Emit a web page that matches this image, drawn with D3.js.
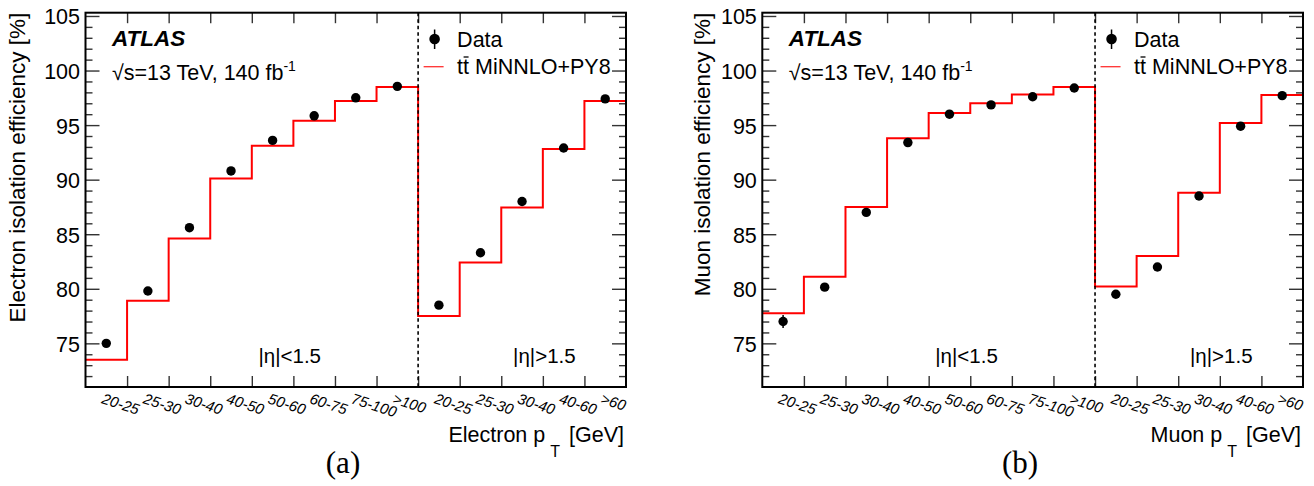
<!DOCTYPE html>
<html>
<head>
<meta charset="utf-8">
<script src="https://cdn.jsdelivr.net/npm/d3@7"></script>
<style>
  body { margin: 0; background: #fff; }
  text { font-family: "Liberation Sans", Arial, Helvetica, sans-serif; fill: #000; }
</style>
</head>
<body>
<svg id="chart" width="1314" height="486"></svg>
<script>
// pT bins: 8 central (|eta|<1.5) followed by 5 forward (|eta|>1.5)
const binLabels = ["20-25", "25-30", "30-40", "40-50", "50-60", "60-75", "75-100", ">100",
                   "20-25", "25-30", "30-40", "40-60", ">60"];
const centralBinCount = 8;

// Isolation efficiencies [%]
const electronData = [75.0, 79.8, 85.6, 90.8, 93.6, 95.85, 97.5, 98.55, 78.5, 83.3, 88.0, 92.9, 97.4];
const electronErr  = [0.3, 0.2, 0.15, 0.1, 0.1, 0.1, 0.1, 0.1, 0.3, 0.2, 0.15, 0.1, 0.1];
const electronMC   = [73.5, 78.9, 84.6, 90.1, 93.1, 95.4, 97.2, 98.5, 77.5, 82.4, 87.45, 92.8, 97.2];

const muonData = [77.0, 80.15, 87.0, 93.4, 96.0, 96.85, 97.6, 98.4, 79.5, 82.0, 88.5, 94.9, 97.7];
const muonErr  = [0.6, 0.3, 0.2, 0.1, 0.1, 0.1, 0.1, 0.1, 0.3, 0.2, 0.15, 0.1, 0.1];
const muonMC   = [77.75, 81.1, 87.5, 93.8, 96.1, 97.0, 97.8, 98.5, 80.2, 83.0, 88.8, 95.2, 97.75];

const yMajorTicks = [75, 80, 85, 90, 95, 100, 105];
const yMinorTicks = d3.range(72, 106, 1);
const yDomain = [71.0, 105.3];

const svg = d3.select("#chart");
const plotTop = 12.7, plotBottom = 387;

const panels = [
  { x0: 85.5, x1: 626, data: electronData, err: electronErr, mc: electronMC,
    yTitle: "Electron isolation efficiency [%]", yTitleX: 25, xTitle: "Electron p",
    tag: "(a)", tagX: 343 },
  { x0: 762.3, x1: 1303, data: muonData, err: muonErr, mc: muonMC,
    yTitle: "Muon isolation efficiency [%]", yTitleX: 710, xTitle: "Muon p",
    tag: "(b)", tagX: 1020 }
];

panels.forEach(p => drawPanel(p));

function drawPanel(p) {
  const g = svg.append("g");
  const x = d3.scaleLinear().domain([0, binLabels.length]).range([p.x0, p.x1]);
  const y = d3.scaleLinear().domain(yDomain).range([plotBottom, plotTop]);
  const edges = d3.range(1, binLabels.length);
  const minor = yMinorTicks.filter(v => !yMajorTicks.includes(v));

  // left axis: major and minor ticks
  g.append("g").attr("transform", `translate(${p.x0},0)`)
    .call(d3.axisRight(y).tickValues(yMajorTicks).tickSize(14).tickFormat(""));
  g.append("g").attr("transform", `translate(${p.x0},0)`)
    .call(d3.axisRight(y).tickValues(minor).tickSize(7).tickFormat(""));
  // right axis mirrored
  g.append("g").attr("transform", `translate(${p.x1},0)`)
    .call(d3.axisLeft(y).tickValues(yMajorTicks).tickSize(14).tickFormat(""));
  g.append("g").attr("transform", `translate(${p.x1},0)`)
    .call(d3.axisLeft(y).tickValues(minor).tickSize(7).tickFormat(""));
  // top and bottom bin-edge ticks
  g.append("g").attr("transform", `translate(0,${plotTop})`)
    .call(d3.axisBottom(x).tickValues(edges).tickSize(10.5).tickFormat(""));
  g.append("g").attr("transform", `translate(0,${plotBottom})`)
    .call(d3.axisTop(x).tickValues(edges).tickSize(11).tickFormat(""));

  g.selectAll(".domain").remove();
  g.selectAll(".tick line").attr("stroke", "#333").attr("stroke-width", 1.4);

  // y tick labels
  g.selectAll(".ylab").data(yMajorTicks).join("text")
    .attr("x", p.x0 - 5.5).attr("y", d => y(d) + 8.5)
    .attr("text-anchor", "end").attr("font-size", 21.5).text(d => d);

  // x tick labels (rotated, italic)
  g.selectAll(".xlab").data(binLabels).join("text")
    .attr("transform", (d, i) => `translate(${x(i + 0.5) - 5.5},${403}) rotate(18)`)
    .attr("font-size", 15).attr("font-style", "italic").text(d => d);

  // MC step histogram
  const stepPts = [];
  p.mc.forEach((v, i) => { stepPts.push([i, v], [i + 1, v]); });
  g.append("path").datum(stepPts)
    .attr("d", d3.line().x(d => x(d[0])).y(d => y(d[1])))
    .attr("fill", "none").attr("stroke", "#ff0000").attr("stroke-width", 2);

  // region separator
  g.append("line")
    .attr("x1", x(centralBinCount)).attr("x2", x(centralBinCount))
    .attr("y1", plotTop).attr("y2", plotBottom)
    .attr("stroke", "#000").attr("stroke-width", 1.6).attr("stroke-dasharray", "3.5,3");

  // data points with error bars
  g.selectAll(".err").data(p.data).join("line")
    .attr("x1", (d, i) => x(i + 0.5)).attr("x2", (d, i) => x(i + 0.5))
    .attr("y1", (d, i) => y(d - p.err[i])).attr("y2", (d, i) => y(d + p.err[i]))
    .attr("stroke", "#000").attr("stroke-width", 1.5);
  g.selectAll(".pt").data(p.data).join("circle")
    .attr("cx", (d, i) => x(i + 0.5)).attr("cy", d => y(d)).attr("r", 4.7)
    .attr("fill", "#000");

  // frame
  g.append("rect").attr("x", p.x0).attr("y", plotTop)
    .attr("width", p.x1 - p.x0).attr("height", plotBottom - plotTop)
    .attr("fill", "none").attr("stroke", "#000").attr("stroke-width", 2);

  // region labels
  g.append("text").attr("x", p.x0 + 173).attr("y", 363).attr("font-size", 20.5).text("|η|<1.5");
  g.append("text").attr("x", x(centralBinCount) + 95).attr("y", 363).attr("font-size", 20.5).text("|η|>1.5");

  // ATLAS label
  g.append("text").attr("x", p.x0 + 26.5).attr("y", 46).attr("font-size", 22.5)
    .attr("font-weight", "bold").attr("font-style", "italic").text("ATLAS");
  const lumi = g.append("text").attr("x", p.x0 + 26.5).attr("y", 80).attr("font-size", 21.5);
  lumi.append("tspan").text("√s=13 TeV, 140 fb");
  lumi.append("tspan").attr("dy", -9).attr("font-size", 14).text("-1");

  // legend
  const lx = x(centralBinCount) + 16.5;
  g.append("line").attr("x1", lx).attr("x2", lx).attr("y1", 29.5).attr("y2", 49)
    .attr("stroke", "#000").attr("stroke-width", 1.5);
  g.append("circle").attr("cx", lx).attr("cy", 39).attr("r", 5.3).attr("fill", "#000");
  g.append("text").attr("x", lx + 22.5).attr("y", 46.5).attr("font-size", 21.5).text("Data");
  g.append("line").attr("x1", lx - 11).attr("x2", lx + 9).attr("y1", 66.7).attr("y2", 66.7)
    .attr("stroke", "#ff3030").attr("stroke-width", 1.3);
  const mcLeg = g.append("text").attr("x", lx + 22.5).attr("y", 73.5).attr("font-size", 21.5)
    .text("tt MiNNLO+PY8");
  // bar over the second "t" (anti-top)
  const tBox = mcLeg.node().getExtentOfChar(1);
  g.append("line")
    .attr("x1", tBox.x + 0.5).attr("x2", tBox.x + tBox.width - 0.5)
    .attr("y1", 73.5 - 16.5).attr("y2", 73.5 - 16.5)
    .attr("stroke", "#000").attr("stroke-width", 1.3);

  // y-axis title
  g.append("text").attr("transform", `translate(${p.yTitleX},${plotTop}) rotate(-90)`)
    .attr("text-anchor", "end").attr("font-size", 22.5).text(p.yTitle);

  // x-axis title
  const xt = g.append("text").attr("x", p.x1 - 2).attr("y", 441.5)
    .attr("text-anchor", "end").attr("font-size", 21.5);
  xt.append("tspan").text(p.xTitle);
  xt.append("tspan").attr("dx", 5).attr("dy", 15).attr("font-size", 16).text("T");
  xt.append("tspan").attr("dx", 3).attr("dy", -15).text(" [GeV]");

  // panel tag
  g.append("text").attr("x", p.tagX).attr("y", 473).attr("text-anchor", "middle")
    .attr("font-size", 31).style("font-family", "'Liberation Serif', 'Times New Roman', serif")
    .text(p.tag);
}
</script>
</body>
</html>
